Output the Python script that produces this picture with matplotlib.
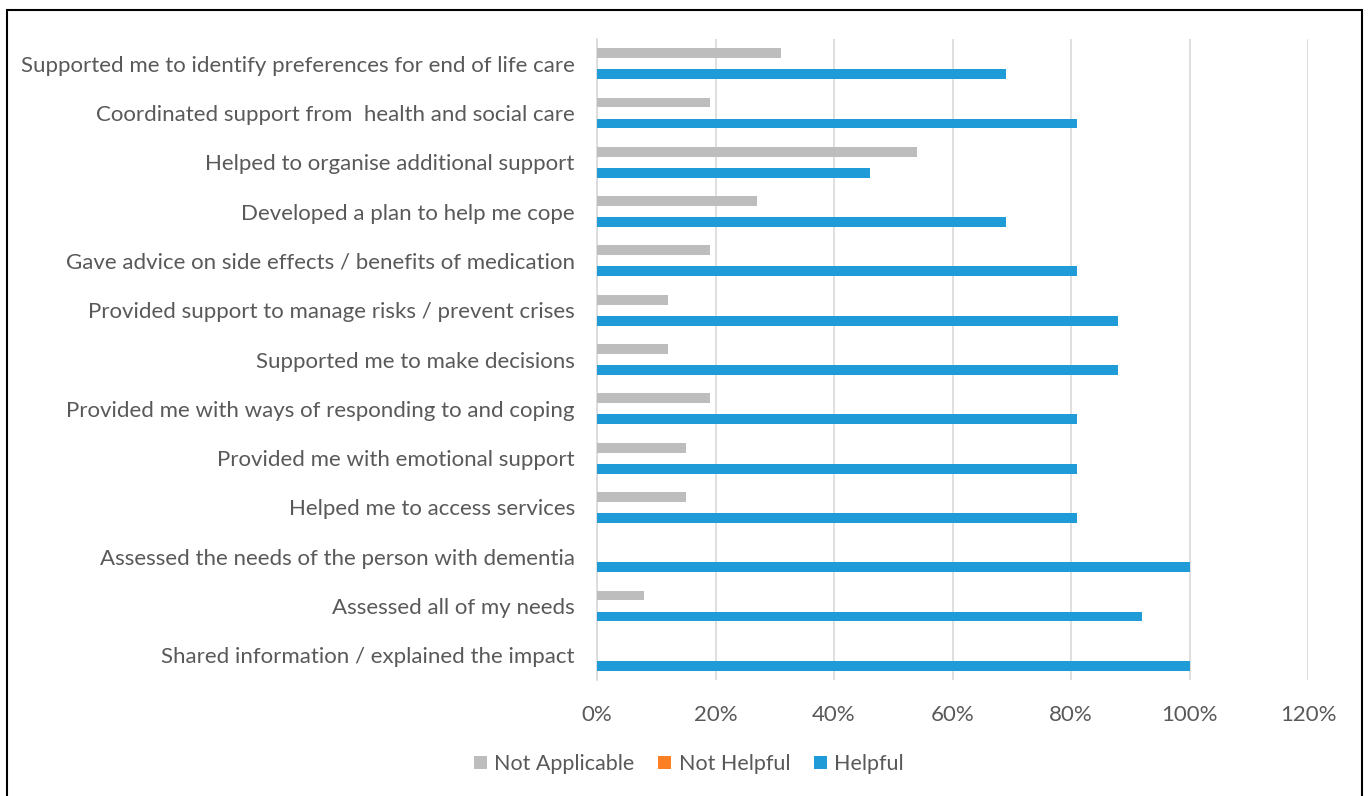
import matplotlib.pyplot as plt
import matplotlib.patches as patches
import numpy as np
from matplotlib.ticker import FuncFormatter

categories = [
    "Shared information / explained the impact",
    "Assessed all of my needs",
    "Assessed the needs of the person with dementia",
    "Helped me to access services",
    "Provided me with emotional support",
    "Provided me with ways of responding to and coping",
    "Supported me to make decisions",
    "Provided support to manage risks / prevent crises",
    "Gave advice on side effects / benefits of medication",
    "Developed a plan to help me cope",
    "Helped to organise additional support",
    "Coordinated support from  health and social care",
    "Supported me to identify preferences for end of life care",
]
helpful = [100, 92, 100, 81, 81, 81, 88, 88, 81, 69, 46, 81, 69]
not_helpful = [0, 0, 0, 0, 0, 0, 0, 0, 0, 0, 0, 0, 0]
not_applicable = [0, 8, 0, 15, 15, 19, 12, 12, 19, 27, 54, 19, 31]

plt.rcParams['font.family'] = ['Lato', 'DejaVu Sans']
grey_text = '#595959'
fs = 16

fig = plt.figure(figsize=(13.68, 7.96), dpi=100)
ax = fig.add_axes([597/1368, 1 - 680/796, (1308 - 597)/1368, (680 - 39)/796])

y = np.arange(len(categories))
h = 0.2
off = 0.213
ax.barh(y - off, helpful, height=h, color='#1f9cd8', label='Helpful', zorder=3)
ax.barh(y, not_helpful, height=h, color='#fd7f23', label='Not Helpful', zorder=3)
ax.barh(y + off, not_applicable, height=h, color='#bdbdbd', label='Not Applicable', zorder=3)

ax.set_xlim(0, 120)
ax.set_ylim(-0.5, len(categories) - 0.5)
ax.set_xticks(np.arange(0, 121, 20))
ax.xaxis.set_major_formatter(FuncFormatter(lambda v, p: f"{int(v)}%"))
ax.set_yticks(y)
ax.set_yticklabels(categories)
ax.tick_params(axis='y', length=0, pad=16, labelsize=fs, labelcolor=grey_text)
ax.tick_params(axis='x', length=0, pad=18, labelsize=fs, labelcolor=grey_text)
ax.grid(axis='x', color='#d9d9d9', linewidth=1.2, zorder=0)
for s in ['top', 'right', 'bottom']:
    ax.spines[s].set_visible(False)
ax.spines['left'].set_color('#d9d9d9')
ax.spines['left'].set_linewidth(1.2)

handles, labels = ax.get_legend_handles_labels()
order = [2, 1, 0]
fig.legend([handles[i] for i in order], [labels[i] for i in order],
           loc='center', bbox_to_anchor=(689/1368, 1 - 764/796), ncol=3,
           frameon=False, fontsize=15.5, labelcolor=grey_text,
           handlelength=0.6, handleheight=0.6, handletextpad=0.35, columnspacing=1.1)

fig.patches.append(patches.Rectangle((7/1368, -0.02), (1362 - 7)/1368, 1.02 - 10/796,
                                     transform=fig.transFigure, fill=False,
                                     edgecolor='black', linewidth=1.5))

fig.savefig('out.png', dpi=100)
